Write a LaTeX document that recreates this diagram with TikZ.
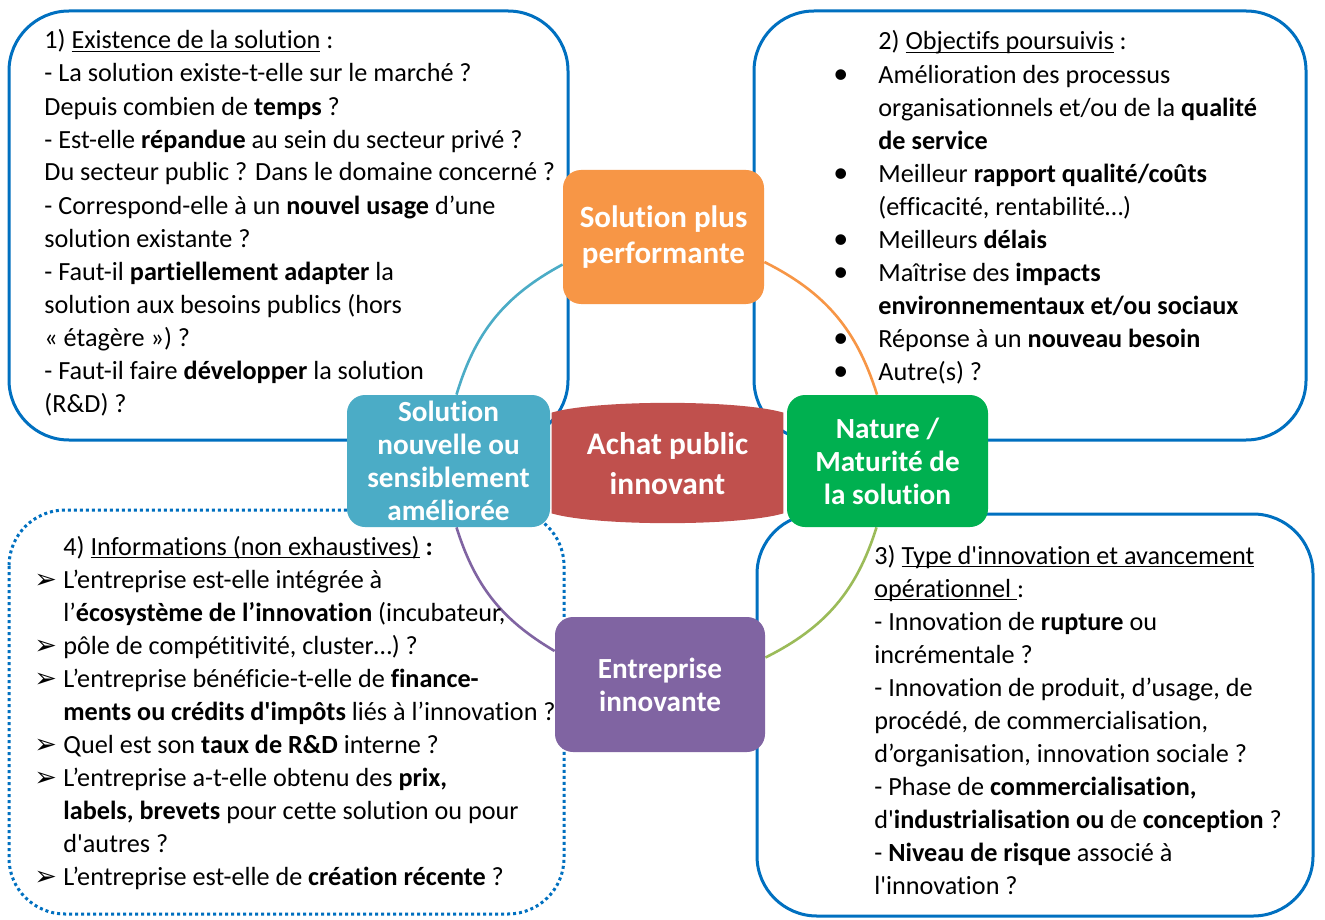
\documentclass[tikz,border=0pt]{standalone}
\usepackage{fontspec}
\setmainfont{Carlito}[Ligatures={TeXOff,CommonOff}]
\newfontfamily\djv{DejaVu Sans}
\usetikzlibrary{calc,backgrounds}
\pgfdeclarelayer{mid}
\pgfsetlayers{background,mid,main}
\definecolor{bordblue}{HTML}{0070C0}
\definecolor{corange}{HTML}{F79646}
\definecolor{cteal}{HTML}{4BACC6}
\definecolor{cred}{HTML}{C0504D}
\definecolor{cgreen}{HTML}{00B050}
\definecolor{cpurple}{HTML}{8064A2}
\definecolor{clime}{HTML}{9BBB59}
\newcommand\ulx[1]{\underline{\smash{#1}}}
\newcommand\arrb{\makebox[14.5pt][l]{\djv\fontsize{13.5}{13.5}\selectfont ➢}}
\newcommand\hang{\makebox[14.5pt]{}}
\newcommand\bul{\makebox[22.5pt][l]{\fontsize{15}{15}\selectfont\textbullet}}
\newcommand\bhang{\makebox[22.5pt]{}}
\tikzset{
  bigbox/.style={draw=bordblue, line width=1.5pt, rounded corners=30pt},
  dotbox/.style={draw=bordblue, line width=1.5pt, rounded corners=28pt, dash pattern=on 1.5pt off 1.5pt},
  bodytext/.style={anchor=base west, inner sep=0pt, align=left, font=\fontsize{13.1}{16.5}\selectfont},
  hub/.style={rounded corners=9pt, inner sep=0pt, align=center, text=white, font=\bfseries\fontsize{14.6}{16.5}\selectfont},
  arcline/.style={line width=1.3pt},
}
\begin{document}
\begin{tikzpicture}[x=0.5pt,y=-0.5pt]
\begin{pgfonlayer}{background}
\fill[white] (0,0) rectangle (1325,919);
\end{pgfonlayer}
\useasboundingbox (0,0) rectangle (1325,919);

% text blocks (anchored at the baseline of their last line)
\node[bodytext] (t1) at (44,412) {1) \ulx{Existence de la solution} :\\
- La solution existe-t-elle sur le marché ?\\
Depuis combien de \textbf{temps} ?\\
- Est-elle \textbf{répandue} au sein du secteur privé ?\\
Du secteur public ? Dans le domaine concerné ?\\
- Correspond-elle à un \textbf{nouvel usage} d’une\\
solution existante ?\\
- Faut-il \textbf{partiellement adapter} la\\
solution aux besoins publics (hors\\
«~étagère~») ?\\
- Faut-il faire \textbf{développer} la solution\\
(R\&D) ?};

\node[bodytext] (t2) at (833,380) {\bhang 2) \ulx{Objectifs poursuivis} :\\
\bul Amélioration des processus\\
\bhang organisationnels et/ou de la \textbf{qualité}\\
\bhang\textbf{de service}\\
\bul Meilleur \textbf{rapport qualité/coûts}\\
\bhang (efficacité, rentabilité…)\\
\bul Meilleurs \textbf{délais}\\
\bul Maîtrise des \textbf{impacts}\\
\bhang\textbf{environnementaux et/ou sociaux}\\
\bul Réponse à un \textbf{nouveau besoin}\\
\bul Autre(s) ?};

\node[bodytext] (t3) at (874,894) {3) \ulx{Type d'innovation et avancement}\\
\ulx{opérationnel }:\\
- Innovation de \textbf{rupture} ou\\
incrémentale ?\\
- Innovation de produit, d’usage, de\\
procédé, de commercialisation,\\
d’organisation, innovation sociale ?\\
- Phase de \textbf{commercialisation,}\\
d'\textbf{industrialisation ou} de \textbf{conception} ?\\
- \textbf{Niveau de risque} associé à\\
l'innovation ?};

\node[bodytext] (t4) at (34,885) {\hang 4) \ulx{Informations (non exhaustives)} \textbf{:}\\
\arrb L’entreprise est-elle intégrée à\\
\hang l’\textbf{écosystème de l’innovation} (incubateur,\\
\arrb pôle de compétitivité, cluster…) ?\\
\arrb L’entreprise bénéficie-t-elle de \textbf{finance-}\\
\hang\textbf{ments ou crédits d'impôts} liés à l’innovation ?\\
\arrb Quel est son \textbf{taux de R\&D} interne ?\\
\arrb L’entreprise a-t-elle obtenu des \textbf{prix,}\\
\hang\textbf{labels, brevets} pour cette solution ou pour\\
\hang d'autres ?\\
\arrb L’entreprise est-elle de \textbf{création récente} ?};

% hub nodes
\node[hub, fill=corange, minimum width=100.5pt, minimum height=67pt, font=\bfseries\fontsize{15.5}{18}\selectfont] (orange) at (663.5,237) {Solution plus\\performante};
\node[hub, fill=cteal, minimum width=101.5pt, minimum height=66pt] (teal) at (448.5,461) {Solution\\nouvelle ou\\sensiblement\\améliorée};
\node[hub, fill=cgreen, minimum width=100.5pt, minimum height=66pt] (green) at (887.5,461) {Nature /\\Maturité de\\la solution};
\node[hub, fill=cpurple, minimum width=105pt, minimum height=67.5pt] (purple) at (660,684.5) {Entreprise\\innovante};
\node[hub, rounded corners=0pt, minimum width=115.5pt, minimum height=49.5pt, font=\bfseries\fontsize{15.7}{20}\selectfont] (achat) at (667.5,463.5) {Achat public\\innovant};

\begin{pgfonlayer}{mid}
\fill[cred] ($(achat.north west)+(0,-1)$) .. controls ($(achat.north west)+(45,-14)$) and ($(achat.north east)+(-45,-14)$) .. ($(achat.north east)+(0,-1)$)
  -- (achat.south east) .. controls ($(achat.south east)+(-45,13)$) and ($(achat.south west)+(45,13)$) .. (achat.south west) -- cycle;
\end{pgfonlayer}

\begin{pgfonlayer}{background}
\draw[bigbox] (9,11) rectangle (568,440);
\draw[bigbox] (754,11) rectangle (1306,440);
\draw[bigbox] (757,514) rectangle (1313,916);
\draw[dotbox] (9,510) rectangle (564,914);
\draw[arcline, cteal] ($(teal.north)+(8,0)$) to[bend left=22.5] ($(orange.west)+(0,27.5)$);
\draw[arcline, corange] ($(orange.east)+(0,25)$) to[bend left=23] ($(green.north)+(-10.5,0)$);
\draw[arcline, clime] ($(green.south)+(-11,0)$) to[bend left=23] ($(purple.east)+(0,-27)$);
\draw[arcline, cpurple] ($(purple.west)+(0,-33.5)$) to[bend left=21] ($(teal.south)+(8,0)$);
\end{pgfonlayer}
\end{tikzpicture}
\end{document}
